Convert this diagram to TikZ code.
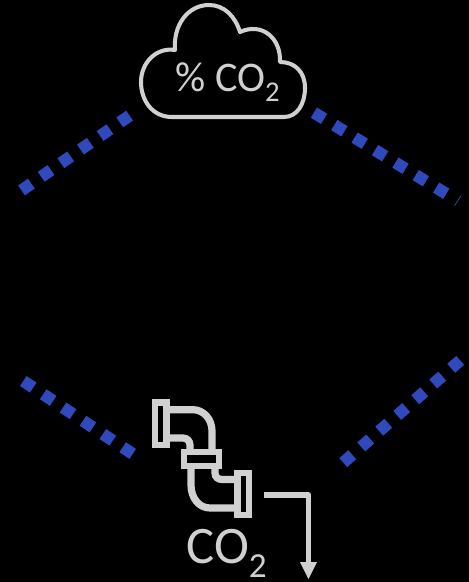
\documentclass[tikz,border=0pt]{standalone}
\usepackage{fontspec}
\setmainfont{Carlito}
\definecolor{linkblue}{HTML}{3049BC}
\definecolor{icongray}{HTML}{D0D0D0}
\tikzset{
  link/.style={draw=linkblue,line width=6.8pt,dash pattern=on 6.8pt off 6.8pt},
  cloudline/.style={draw=icongray,line width=2.3pt,line join=round},
  flange/.style={draw=icongray,line width=3.6pt,line join=miter},
  pipeline/.style={draw=icongray,line width=4.1pt},
  flowline/.style={draw=icongray,line width=3.2pt},
  lbl/.style={text=icongray,inner sep=0pt,anchor=base west}
}
\begin{document}
\begin{tikzpicture}[x=.02cm,y=-.02cm]
\fill[black] (0,0) rectangle (469,582);
\useasboundingbox (0,0) rectangle (469,582);
% dotted links
\coordinate (topleftA) at (129.6,115.6);\coordinate (topleftB) at (21.1,190.7);
\coordinate (toprightA) at (313.9,112.6);\coordinate (toprightB) at (446.8,194.1);
\coordinate (botleftA) at (23.3,381);\coordinate (botleftB) at (133.3,454.3);
\coordinate (botrightA) at (460.2,360.4);\coordinate (botrightB) at (342.8,463);
\draw[link] (topleftA)--(topleftB);
\draw[link] (toprightA)--(toprightB);
\draw[link] (botleftA)--(botleftB);
\draw[link] (botrightA)--(botrightB);
\draw[draw=linkblue,line width=.4pt] (454.5,205.7)--(461,195.7);
% cloud
\draw[cloudline] (172,117) .. controls (152,117) and (141,100) .. (141,82)
  .. controls (141,63) and (156,47) .. (175,50)
  .. controls (173,25) and (188,5) .. (209,5)
  .. controls (224,5) and (235,16) .. (240,32)
  .. controls (262,22) and (281,38) .. (280,62)
  .. controls (295,62) and (305,72) .. (305,88)
  .. controls (305,104) and (297,117) .. (284,117) -- cycle;
\node[lbl,font=\fontsize{24pt}{25pt}\selectfont] (cloudtext) at (175,91.7) {\% CO\raisebox{-5.7pt}{\fontsize{16.3pt}{17pt}\selectfont 2}};
% pipe
\draw[pipeline] (168,409.7) -- (193,409.7) .. controls (203.5,409.7) and (212,419) .. (212,431) -- (212,450);
\draw[pipeline] (168,438) -- (183,438) .. controls (187,438) and (190,441) .. (190,445) -- (190,450);
\draw[pipeline] (191,467) -- (191,485) .. controls (191,498) and (199,508) .. (210,508) -- (236,508);
\draw[pipeline] (215,467) -- (215,473) .. controls (215,477) and (218,479.5) .. (222,479.5) -- (236,479.5);
\draw[flange] (155,402.5) rectangle (166.5,445);
\draw[flange] (184.2,451.7) rectangle (219.2,465.9);
\draw[flange] (237.5,472.7) rectangle (249,515);
% vent arrow
\coordinate (ventA) at (264,495);\coordinate (ventB) at (308.5,495);\coordinate (ventC) at (308.5,563);
\draw[flowline,line join=round] (ventA)--(ventB)--(ventC);
\fill[icongray] (300,562)--(317,562)--(308.5,579)--cycle;
\node[lbl,font=\fontsize{30pt}{31pt}\selectfont] (pipetext) at (186,563) {CO\raisebox{-8pt}{\fontsize{20pt}{21pt}\selectfont 2}};
\end{tikzpicture}
\end{document}
